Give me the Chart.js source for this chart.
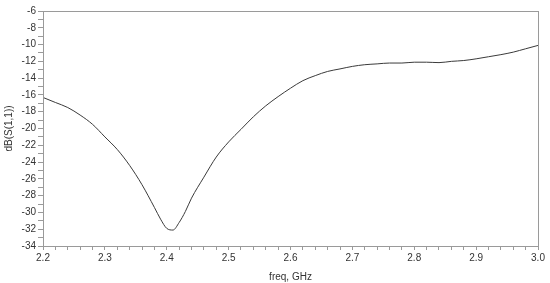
<!DOCTYPE html>
<html>
<head>
<meta charset="utf-8">
<script src="https://cdn.jsdelivr.net/npm/chart.js@4"></script>
<style>
  html, body { margin: 0; padding: 0; background: #fff; }
  #wrap { width: 550px; height: 283px; }
</style>
</head>
<body>
<div id="wrap"><canvas id="chart" width="550" height="283"></canvas></div>
<script>
// frequency (GHz) and return loss dB(S(1,1))
const freq = [2.20, 2.22, 2.24, 2.26, 2.28, 2.30, 2.32, 2.34, 2.36, 2.38,
              2.39, 2.40, 2.41, 2.42, 2.43, 2.44, 2.46, 2.48, 2.50, 2.52,
              2.54, 2.56, 2.58, 2.60, 2.62, 2.64, 2.66, 2.68, 2.70, 2.72,
              2.74, 2.76, 2.78, 2.80, 2.82, 2.84, 2.86, 2.88, 2.90, 2.92,
              2.94, 2.96, 2.98, 3.00];
const s11 = [-16.3, -16.9, -17.5, -18.4, -19.5, -21.0, -22.5, -24.4, -26.7, -29.4,
             -30.8, -31.9, -32.1, -31.2, -29.9, -28.3, -25.8, -23.4, -21.6, -20.1,
             -18.6, -17.3, -16.2, -15.2, -14.3, -13.7, -13.2, -12.9, -12.6, -12.4,
             -12.3, -12.2, -12.2, -12.1, -12.1, -12.15, -12.0, -11.9, -11.7, -11.45,
             -11.2, -10.9, -10.5, -10.1];

const xMin = 2.2, xMax = 3.0, xStep = 0.02;
const yMin = -34, yMax = -6, yStep = 1;

const axisColor = '#9a9a9a';
const textColor = '#333333';
const font = { family: '"Liberation Sans", Arial, sans-serif', size: 10 };

// box around the plot (top and right edges too)
const frame = {
    id: 'frame',
    afterDraw(chart) {
        const a = chart.chartArea;
        const ctx = chart.ctx;
        ctx.save();
        ctx.strokeStyle = axisColor;
        ctx.lineWidth = 1;
        ctx.strokeRect(Math.round(a.left) + 0.5, Math.round(a.top) + 0.5,
                       Math.round(a.right - a.left), Math.round(a.bottom - a.top));
        ctx.restore();
    }
};

const isMajor = (v, every) => Math.abs(v / every - Math.round(v / every)) < 1e-6;

new Chart(document.getElementById('chart'), {
    type: 'line',
    data: {
        datasets: [{
            data: freq.map((f, i) => ({ x: f, y: s11[i] })),
            borderColor: '#3a3a3a',
            borderWidth: 1,
            pointRadius: 0,
            cubicInterpolationMode: 'monotone',
            fill: false
        }]
    },
    options: {
        responsive: false,
        animation: false,
        layout: { padding: { top: 11, right: 12, left: 3, bottom: 0 } },
        plugins: {
            legend: { display: false },
            tooltip: { enabled: false }
        },
        scales: {
            x: {
                type: 'linear',
                min: xMin,
                max: xMax,
                afterFit(scale) { scale.height = 37; },
                border: { display: true, color: axisColor },
                grid: {
                    drawOnChartArea: false,
                    drawTicks: true,
                    tickLength: 4,
                    color: axisColor
                },
                ticks: {
                    stepSize: xStep,
                    autoSkip: false,
                    maxRotation: 0,
                    maxTicksLimit: 100,
                    padding: 2,
                    color: textColor,
                    font: font,
                    callback: v => isMajor(v, 0.1) ? v.toFixed(1) : ''
                },
                title: {
                    display: true,
                    text: 'freq, GHz',
                    color: textColor,
                    font: font,
                    padding: { top: 2, bottom: 0 }
                }
            },
            y: {
                min: yMin,
                max: yMax,
                afterFit(scale) { scale.width = 40; },
                border: { display: true, color: axisColor },
                grid: {
                    drawOnChartArea: false,
                    drawTicks: true,
                    tickLength: 5,
                    color: axisColor
                },
                ticks: {
                    stepSize: yStep,
                    autoSkip: false,
                    maxTicksLimit: 100,
                    padding: 2,
                    color: textColor,
                    font: font,
                    callback: v => isMajor(v, 2) ? String(v) : ''
                },
                title: {
                    display: true,
                    text: 'dB(S(1,1))',
                    color: textColor,
                    font: font,
                    padding: { top: 0, bottom: 0 }
                }
            }
        }
    },
    plugins: [frame]
});
</script>
</body>
</html>
